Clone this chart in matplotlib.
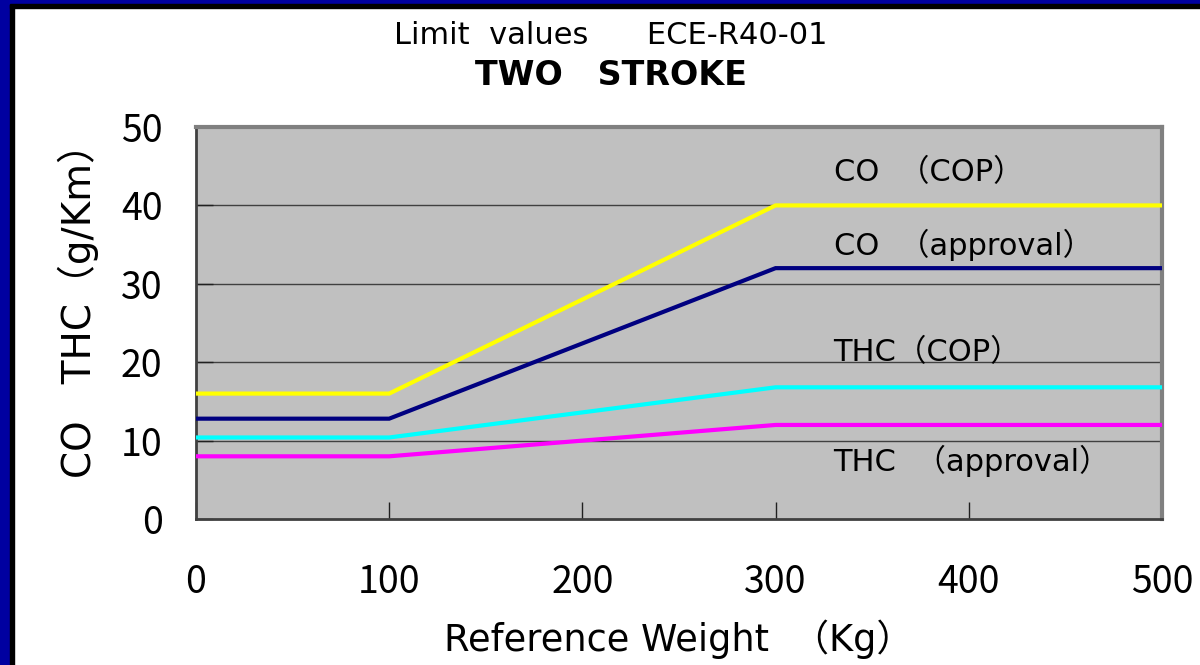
import matplotlib.pyplot as plt
from matplotlib.patches import Rectangle

# reference weight (kg) breakpoints
weight = [0, 100, 300, 500]
co_cop = [16, 16, 40, 40]
co_approval = [12.8, 12.8, 32, 32]
thc_cop = [10.4, 10.4, 16.8, 16.8]
thc_approval = [8, 8, 12, 12]

series = [
    (co_cop, "#ffff00", "CO  （COP）", 44.2),
    (co_approval, "#000080", "CO  （approval）", 35),
    (thc_cop, "#00ffff", "THC（COP）", 21.3),
    (thc_approval, "#ff00ff", "THC  （approval）", 7.4),
]

plt.rcParams["font.family"] = ["DejaVu Sans", "Noto Sans CJK JP"]
digits = ["Noto Sans CJK JP", "DejaVu Sans"]

fig = plt.figure(figsize=(12, 6.65), dpi=100)
ax = fig.add_axes([0.1633, 0.2195, 0.805, 0.5895])
ax.set_facecolor("#c0c0c0")

for y in [10, 20, 30, 40]:
    ax.axhline(y, color="#404040", linewidth=1, zorder=1)

for vals, color, label, ty in series:
    ax.plot(weight, vals, color=color, linewidth=3, zorder=3,
            solid_joinstyle="miter")
    ax.text(330, ty, label, fontsize=22, va="center", ha="left", zorder=4)

ax.set_xlim(0, 500)
ax.set_ylim(0, 50)
ax.set_xticks([0, 100, 200, 300, 400, 500])
ax.set_yticks([0, 10, 20, 30, 40, 50])
ax.tick_params(axis="both", direction="in", length=12, width=1,
               color="#202020")
ax.tick_params(axis="x", pad=32)
ax.tick_params(axis="y", pad=24)
for lab in ax.get_xticklabels() + ax.get_yticklabels():
    lab.set_family(digits)
    lab.set_fontsize(27)

for side in ["top", "right"]:
    ax.spines[side].set_color("#808080")
    ax.spines[side].set_linewidth(3)
for side in ["left", "bottom"]:
    ax.spines[side].set_color("#404040")
    ax.spines[side].set_linewidth(2)

ax.set_xlabel("Reference Weight  （Kg）", fontsize=26.5, labelpad=12)
ax.set_ylabel("CO   THC（g/Km）", fontsize=28)
ax.yaxis.set_label_coords(-0.1, 0.555)

fig.text(0.509, 0.947, "Limit  values      ECE-R40-01", fontsize=22,
         ha="center", va="center")
fig.text(0.509, 0.887, "TWO   STROKE", fontsize=24, fontweight="bold",
         ha="center", va="center")

# window frame: blue then black on left and top
fig.patches.append(Rectangle((0, 0), 10 / 1200, 1, transform=fig.transFigure,
                             color="#0000a0", zorder=10))
fig.patches.append(Rectangle((10 / 1200, 0), 4 / 1200, 1 - 4 / 665,
                             transform=fig.transFigure, color="black", zorder=10))
fig.patches.append(Rectangle((0, 1 - 4 / 665), 1, 4 / 665,
                             transform=fig.transFigure, color="#0000a0", zorder=10))
fig.patches.append(Rectangle((10 / 1200, 1 - 8 / 665), 1, 4 / 665,
                             transform=fig.transFigure, color="black", zorder=10))

fig.savefig("out.png", dpi=100)
